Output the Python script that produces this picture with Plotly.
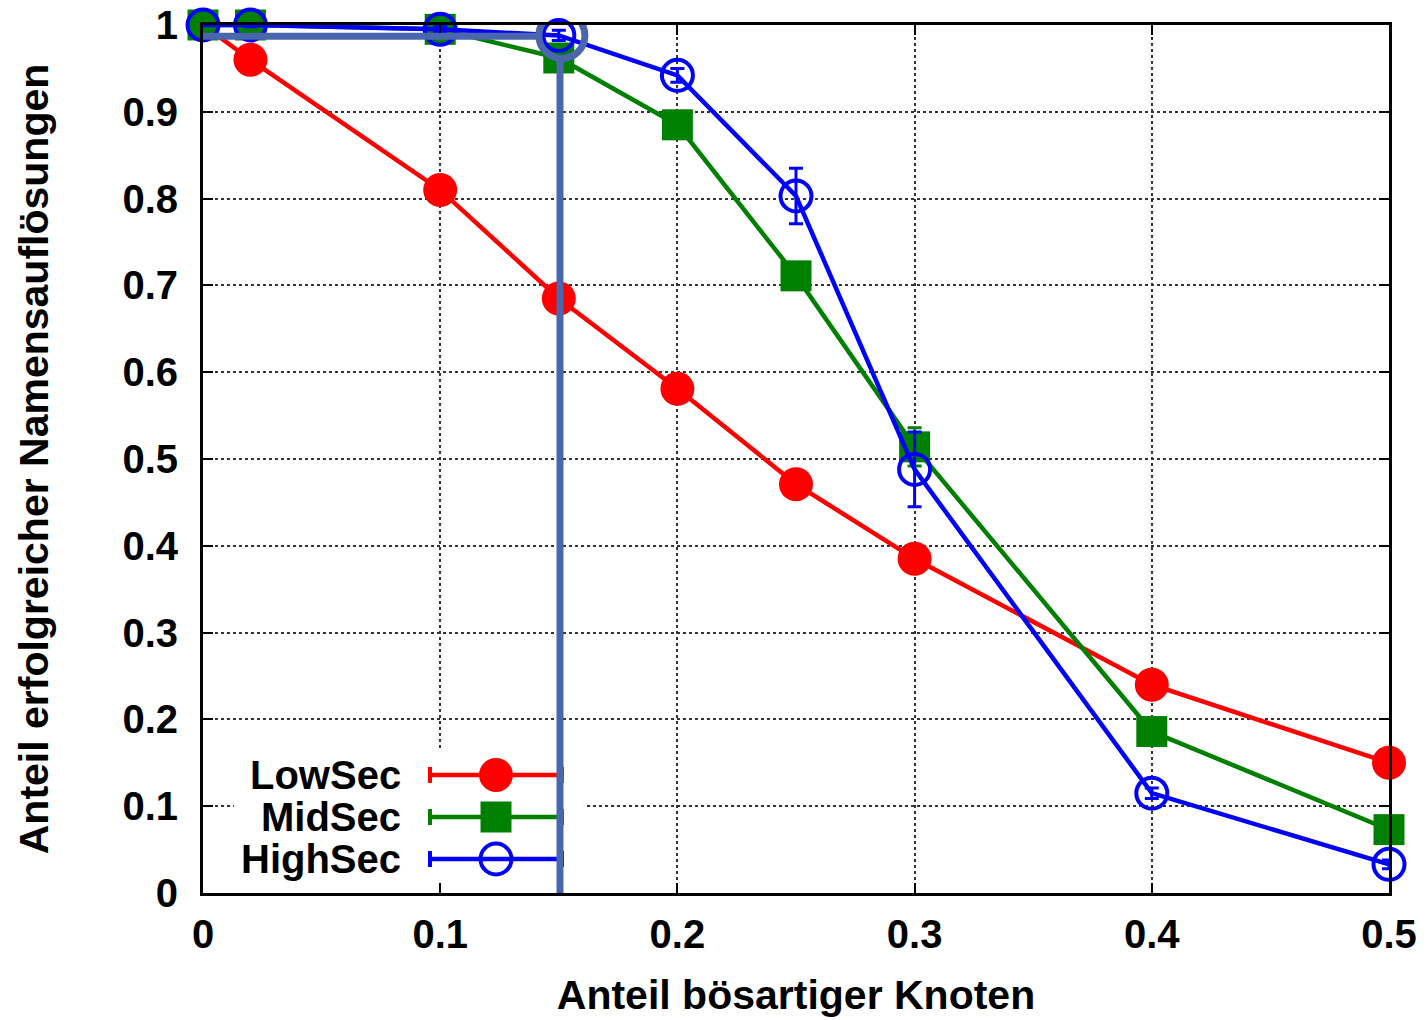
import plotly.graph_objects as go

# ---------------- data ----------------
x_vals = [0, 0.02, 0.1, 0.15, 0.2, 0.25, 0.3, 0.4, 0.5]
low_sec = [1.0, 0.96, 0.81, 0.685, 0.581, 0.471, 0.385, 0.240, 0.150]
low_err = [0.0, 0.004, 0.004, 0.005, 0.008, 0.005, 0.005, 0.005, 0.004]
mid_sec = [1.0, 1.0, 0.995, 0.962, 0.885, 0.711, 0.514, 0.186, 0.073]
mid_err = [0.0, 0.002, 0.003, 0.006, 0.008, 0.010, 0.022, 0.006, 0.004]
high_sec = [1.0, 1.0, 0.995, 0.988, 0.942, 0.803, 0.488, 0.115, 0.033]
high_err = [0.0, 0.002, 0.003, 0.006, 0.008, 0.032, 0.043, 0.006, 0.005]

series_names = ["LowSec", "MidSec", "HighSec"]
series_colors = ["#FF0000", "#008000", "#0000FF"]

x_ticks = [0, 0.1, 0.2, 0.3, 0.4, 0.5]
x_ticktext = ["0", "0.1", "0.2", "0.3", "0.4", "0.5"]
y_ticks = [0, 0.1, 0.2, 0.3, 0.4, 0.5, 0.6, 0.7, 0.8, 0.9, 1.0]
y_ticktext = ["0", "0.1", "0.2", "0.3", "0.4", "0.5", "0.6", "0.7", "0.8", "0.9", "1"]

x_title = "Anteil bösartiger Knoten"
y_title = "Anteil erfolgreicher Namensauflösungen"

FONT = "Liberation Sans, Arial, sans-serif"
ANNOT = "#4A66AC"

fig = go.Figure()

def add_series(y, err, name, color, symbol, size, fill):
    fig.add_trace(go.Scatter(
        x=x_vals, y=y, name=name, mode="lines+markers", cliponaxis=False,
        line=dict(color=color, width=4.5),
        marker=dict(symbol=symbol, size=size, color=color,
                    line=dict(color=color, width=(0 if fill else 4))),
        error_y=dict(type="data", array=err, visible=True, color=color, thickness=3, width=7),
        showlegend=False,
    ))

add_series(low_sec, low_err, series_names[0], series_colors[0], "circle", 34, True)
add_series(mid_sec, mid_err, series_names[1], series_colors[1], "square", 31, True)
add_series(high_sec, high_err, series_names[2], series_colors[2], "circle-open", 31, False)

# ---------------- custom legend (overlay axis in pixel coordinates) ----------------
legend_rows_y = [775, 817, 859]
legend_symbols = ["circle", "square", "circle-open"]
legend_sizes = [34, 31, 31]
for name, color, sym, sz, ly in zip(series_names, series_colors, legend_symbols, legend_sizes, legend_rows_y):
    fill = sym != "circle-open"
    fig.add_trace(go.Scatter(
        x=[430, 496, 562], y=[ly, ly, ly], xaxis="x2", yaxis="y2",
        mode="lines", line=dict(color=color, width=4.5),
        error_y=dict(type="data", array=[8, 0, 8], visible=True, color=color, thickness=4, width=0),
        showlegend=False, hoverinfo="skip",
    ))
    fig.add_trace(go.Scatter(
        x=[496], y=[ly], xaxis="x2", yaxis="y2", mode="markers",
        marker=dict(symbol=sym, size=sz, color=color,
                    line=dict(color=color, width=(0 if fill else 4))),
        showlegend=False, hoverinfo="skip",
    ))
    fig.add_annotation(x=403, y=ly, xref="x2", yref="y2", text=name, showarrow=False,
                       xanchor="right", yanchor="middle",
                       font=dict(family=FONT, size=40, color="black", weight="bold"))

# white legend background (covers grid)
fig.add_shape(type="rect", xref="x", yref="y", x0=0.013, x1=0.1606, y0=0.015, y1=0.165,
              fillcolor="white", line=dict(width=0), layer="between")

# ---------------- overlay annotation (blue marker lines) ----------------
fig.add_shape(type="line", xref="x", yref="y", x0=-0.0045, x1=0.141, y0=0.987, y1=0.987,
              line=dict(color=ANNOT, width=7), layer="above")
fig.add_shape(type="circle", xref="x", yref="y", x0=0.1513 - 0.0097, x1=0.1513 + 0.0097,
              y0=0.988 - 0.0265, y1=0.988 + 0.0265, line=dict(color=ANNOT, width=7), layer="above")
fig.add_shape(type="line", xref="x", yref="y", x0=0.1505, x1=0.1505, y0=0.961, y1=-0.004,
              line=dict(color=ANNOT, width=7), layer="above")

axis_common = dict(
    showline=True, linecolor="black", linewidth=3, mirror="ticks",
    ticks="inside", ticklen=10, tickwidth=2, tickcolor="black",
    showgrid=True, gridcolor="#333333", gridwidth=2, griddash="dot",
    zeroline=False, automargin=False,
    tickfont=dict(family=FONT, size=40, color="black", weight="bold"),
)

fig.update_layout(
    width=1428, height=1020,
    margin=dict(l=203, r=39, t=25, b=127),
    paper_bgcolor="white", plot_bgcolor="white",
    xaxis=dict(range=[0, 0.5], tickvals=x_ticks, ticktext=x_ticktext,
               ticklabelstandoff=4,
               title=dict(text=x_title, standoff=26,
                          font=dict(family=FONT, size=41, color="black", weight="bold")),
               **axis_common),
    yaxis=dict(range=[0, 1], tickvals=y_ticks, ticktext=y_ticktext,
               ticklabelstandoff=14,
               title=dict(text=y_title, standoff=62,
                          font=dict(family=FONT, size=41, color="black", weight="bold")),
               **axis_common),
    xaxis2=dict(range=[203, 1389], overlaying="x", visible=False, fixedrange=True, automargin=False),
    yaxis2=dict(range=[893, 25], overlaying="y", visible=False, fixedrange=True, automargin=False),
)

fig.write_html("out.html")
